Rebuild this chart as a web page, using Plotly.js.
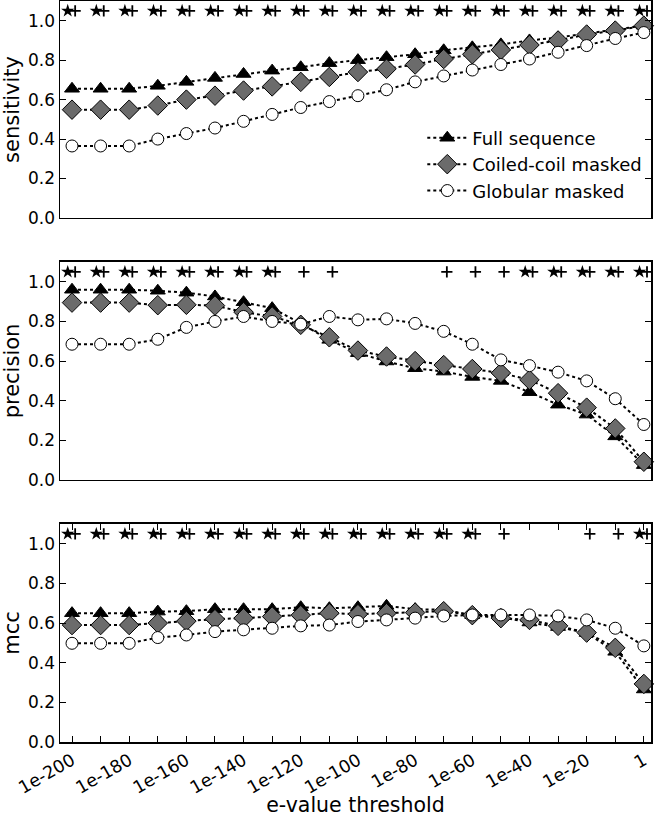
<!DOCTYPE html>
<html>
<head>
<meta charset="utf-8">
<script src="https://cdn.plot.ly/plotly-3.0.1.min.js"></script>
<style>html,body{margin:0;padding:0;background:#fff;}#chart{width:656px;height:817px;}</style>
</head>
<body>
<div id="chart"></div>
<script>
// e-value thresholds (x categories)
const thresholds = ['1e-200','1e-190','1e-180','1e-170','1e-160','1e-150','1e-140','1e-130','1e-120','1e-110','1e-100','1e-90','1e-80','1e-70','1e-60','1e-50','1e-40','1e-30','1e-20','1e-10','1'];
const tickLabels = ['1e-200','','1e-180','','1e-160','','1e-140','','1e-120','','1e-100','','1e-80','','1e-60','','1e-40','','1e-20','','1'];

const seriesNames = ['Full sequence','Coiled-coil masked','Globular masked'];

// sensitivity
const sensFull   = [0.655,0.655,0.655,0.67,0.69,0.71,0.73,0.747,0.764,0.785,0.80,0.815,0.83,0.85,0.865,0.88,0.90,0.915,0.935,0.955,0.975];
const sensCoiled = [0.549,0.549,0.549,0.57,0.60,0.62,0.646,0.667,0.69,0.715,0.74,0.756,0.778,0.806,0.83,0.852,0.877,0.90,0.93,0.95,0.975];
const sensGlob   = [0.365,0.365,0.365,0.40,0.428,0.456,0.49,0.525,0.56,0.59,0.62,0.65,0.69,0.72,0.75,0.778,0.806,0.84,0.874,0.91,0.94];

// precision
const precFull   = [0.96,0.96,0.96,0.955,0.945,0.926,0.897,0.867,0.79,0.707,0.64,0.598,0.564,0.547,0.52,0.50,0.443,0.38,0.33,0.22,0.075];
const precCoiled = [0.895,0.895,0.895,0.882,0.884,0.88,0.847,0.825,0.783,0.72,0.653,0.623,0.60,0.58,0.56,0.54,0.505,0.438,0.365,0.26,0.092];
const precGlob   = [0.685,0.685,0.685,0.71,0.77,0.80,0.825,0.80,0.786,0.825,0.808,0.813,0.79,0.75,0.685,0.606,0.577,0.544,0.50,0.41,0.28];

// mcc
const mccFull   = [0.65,0.65,0.65,0.658,0.66,0.67,0.67,0.67,0.68,0.675,0.68,0.687,0.67,0.667,0.64,0.63,0.603,0.58,0.55,0.455,0.265];
const mccCoiled = [0.59,0.59,0.59,0.60,0.61,0.62,0.625,0.633,0.64,0.65,0.645,0.65,0.653,0.66,0.64,0.625,0.616,0.586,0.552,0.475,0.293];
const mccGlob   = [0.498,0.498,0.498,0.527,0.54,0.557,0.566,0.574,0.586,0.59,0.608,0.616,0.625,0.636,0.641,0.641,0.641,0.636,0.616,0.574,0.485];

// significance indicators (indices of thresholds) drawn at level 1.05
const sigLevel = 1.05;
const sensStars = [0,1,2,3,4,5,6,7,8,9,10,11,12,13,14,15,16,17,18,19,20];
const sensPlus  = [0,1,2,3,4,5,6,7,8,9,10,11,12,13,14,15,16,17,18,19,20];
const precStars = [0,1,2,3,4,5,6,7,16,17,18,19,20];
const precPlus  = [0,1,2,3,4,5,6,7,8,9,13,14,15,16,17,18,19,20];
const mccStars  = [0,1,2,3,4,5,6,7,8,9,10,11,12,13,14,20];
const mccPlus   = [0,1,2,3,4,5,6,7,8,9,10,11,12,13,14,15,18,19,20];

const xIdx = thresholds.map((_, i) => i);
const styles = [
  {symbol:'triangle-up', size:13, color:'#000000'},
  {symbol:'diamond', size:15, color:'#6b6b6b'},
  {symbol:'circle', size:12, color:'#ffffff'}
];

const traces = [];
const panels = [
  {vals:[sensFull,sensCoiled,sensGlob], stars:sensStars, plus:sensPlus, ax:''},
  {vals:[precFull,precCoiled,precGlob], stars:precStars, plus:precPlus, ax:'2'},
  {vals:[mccFull,mccCoiled,mccGlob], stars:mccStars, plus:mccPlus, ax:'3'}
];
panels.forEach((p, pi) => {
  p.vals.forEach((v, si) => {
    traces.push({
      type:'scatter', mode:'lines+markers', name:seriesNames[si],
      x:xIdx, y:v, xaxis:'x'+p.ax, yaxis:'y'+p.ax,
      showlegend: pi === 0, legendrank: si,
      line:{color:'#000', width:2, dash:'dot'},
      marker:{symbol:styles[si].symbol, size:styles[si].size, color:styles[si].color, line:{color:'#000', width:1}},
      cliponaxis:false
    });
  });
  traces.push({
    type:'scatter', mode:'markers', showlegend:false, hoverinfo:'skip',
    x:p.stars.map(i => i - 0.15), y:p.stars.map(() => sigLevel), xaxis:'x'+p.ax, yaxis:'y'+p.ax,
    marker:{symbol:'star', size:10, color:'#000', line:{width:0}}
  });
  traces.push({
    type:'scatter', mode:'markers', showlegend:false, hoverinfo:'skip',
    x:p.plus.map(i => i + 0.11), y:p.plus.map(() => sigLevel), xaxis:'x'+p.ax, yaxis:'y'+p.ax,
    marker:{symbol:'cross-thin', size:8, color:'#000', line:{color:'#000', width:1.8}}
  });
});

const font = {family:'DejaVu Sans, sans-serif', color:'#000'};
function xax(anchor, showLabels) {
  return {
    anchor: anchor, range:[-0.42, 20.25], tickmode:'array', tickvals:xIdx,
    ticktext: showLabels ? tickLabels : xIdx.map(() => ''),
    ticks: showLabels ? 'inside' : '', ticklen:6, tickwidth:1, tickcolor:'#000',
    showline:true, linecolor:'#000', linewidth:1.5, mirror: showLabels ? 'ticks' : true,
    showgrid:false, zeroline:false, tickangle: showLabels ? -30 : 0,
    tickfont:{...font, size:17.5}, ticklabelshift: 0,
    title: showLabels ? {text:'e-value threshold', font:{...font, size:20.5}, standoff:3} : {text:''}
  };
}
function yax(anchor, domain, label) {
  return {
    anchor: anchor, domain: domain, range:[0, 1.1], tickmode:'array',
    tickvals:[0,0.2,0.4,0.6,0.8,1.0], ticktext:['0.0','0.2','0.4','0.6','0.8','1.0'],
    ticks:'inside', ticklen:6, tickwidth:1, tickcolor:'#000',
    showline:true, linecolor:'#000', linewidth:1.5, mirror:'ticks',
    showgrid:false, zeroline:false, tickfont:{...font, size:17},
    title:{text:label, font:{...font, size:21}, standoff:4}
  };
}

const layout = {
  width:656, height:817,
  margin:{l:60, r:5, t:1, b:75},
  paper_bgcolor:'#fff', plot_bgcolor:'#fff',
  font: font,
  showlegend:true,
  legend:{x:0.613, y:0.84, xanchor:'left', yanchor:'top', bgcolor:'rgba(0,0,0,0)', borderwidth:0,
          font:{...font, size:18}, tracegroupgap:0, itemwidth:40},
  xaxis: xax('y', false),
  yaxis: yax('x', [0.7072, 1], 'sensitivity'),
  xaxis2: xax('y2', false),
  yaxis2: yax('x2', [0.3536, 0.6478], 'precision'),
  xaxis3: xax('y3', true),
  yaxis3: yax('x3', [0, 0.2942], 'mcc')
};

Plotly.newPlot('chart', traces, layout, {staticPlot:true, displayModeBar:false});
</script>
</body>
</html>
